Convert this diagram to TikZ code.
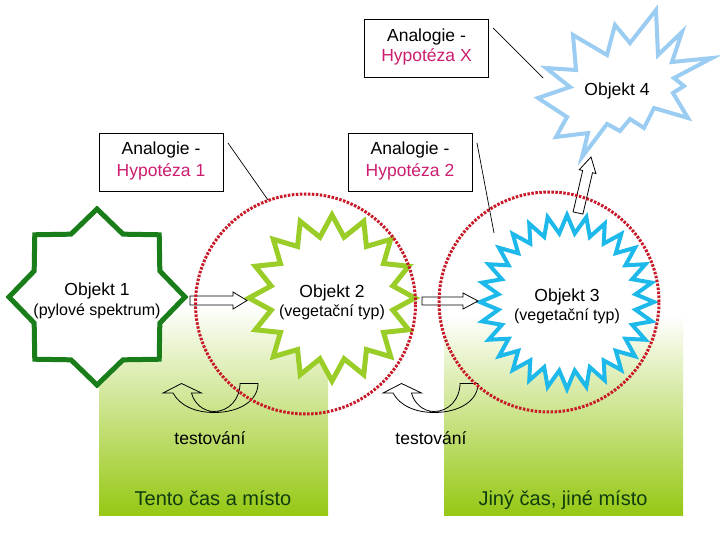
\documentclass[tikz,border=0pt]{standalone}
\usepackage{fontspec}
\setmainfont{Liberation Sans}
\usetikzlibrary{calc}
\definecolor{hyp}{RGB}{204,30,110}
\definecolor{darkgreen}{RGB}{25,125,25}
\definecolor{limestar}{RGB}{155,205,40}
\definecolor{cyanstar}{RGB}{30,185,235}
\definecolor{lightblue}{RGB}{155,205,242}
\definecolor{reddot}{RGB}{200,25,40}
\definecolor{gradgreen}{RGB}{150,200,20}
\definecolor{txtgreen}{RGB}{15,60,15}
\begin{document}
\begin{tikzpicture}[x=1pt,y=-1pt,
  box/.style={draw, fill=white, line width=0.8pt, minimum width=124pt, minimum height=58pt, inner sep=0pt},
  ttl/.style={anchor=base, font=\fontsize{17.5}{20}\selectfont, inner sep=0pt},
  sub/.style={anchor=base, font=\fontsize{16}{18}\selectfont, inner sep=0pt},
  bot/.style={anchor=base, font=\fontsize{20}{23}\selectfont, text=txtgreen, inner sep=0pt},
  lead/.style={line width=0.7pt},
  blockarrow/.style={draw, fill=white, line width=0.8pt, line join=miter},
  curvearrow/.style={draw, line width=0.8pt},
  dotcircle/.style={draw=reddot, line width=3pt, dash pattern=on 2.5pt off 1.5pt}
]
\useasboundingbox (0,0) rectangle (720,540);
\fill[white] (0,0) rectangle (720,540);

% gradient panels
\shade[top color=white, middle color=gradgreen!30, bottom color=gradgreen] (99,305) rectangle (328,515);
\shade[top color=white, middle color=gradgreen!30, bottom color=gradgreen] (444,315) rectangle (683,515);

% boxes
\node[box] (bx) at (426.5,48.5) {};
\node[box] (b1) at (161,162) {};
\node[box] (b2) at (410,162) {};
\node[ttl] (bxa) at (426.5,42) {Analogie -};
\node[ttl, text=hyp] (bxh) at (426.5,62) {Hypotéza X};
\node[ttl] (b1a) at (161,155) {Analogie -};
\node[ttl, text=hyp] (b1h) at (161,177) {Hypotéza 1};
\node[ttl] (b2a) at (410,155) {Analogie -};
\node[ttl, text=hyp] (b2h) at (410,177) {Hypotéza 2};

% leader lines
\coordinate (l1s) at (228,143); \coordinate (l1e) at (268,200);
\coordinate (l2s) at (477,143); \coordinate (l2e) at (494,233);
\coordinate (lxs) at (493,28);  \coordinate (lxe) at (543,78);
\draw[lead] (l1s) -- (l1e);
\draw[lead] (l2s) -- (l2e);
\draw[lead] (lxs) -- (lxe);

% Objekt 1 : 8-point star
\draw[line width=5pt, draw=darkgreen, fill=white, line join=miter]
  plot[samples at={0,...,15}, variable=\k]
  ({97+cos(\k*22.5)*(78+10*cos(180*\k))}, {297-sin(\k*22.5)*(78+10*cos(180*\k))}) -- cycle;
% Objekt 2 : 16-point star
\draw[line width=5pt, draw=limestar, fill=white, line join=miter]
  plot[samples at={0,...,31}, variable=\k]
  ({332+cos(90+\k*11.25)*(72.5+10.5*cos(180*\k))}, {298-sin(90+\k*11.25)*(72.5+10.5*cos(180*\k))}) -- cycle;
% Objekt 3 : 28-point star
\draw[line width=4pt, draw=cyanstar, fill=white, line join=miter]
  plot[samples at={0,...,55}, variable=\k]
  ({567+cos(\k*6.428571)*(78+9*cos(180*\k))}, {302-sin(\k*6.428571)*(78+9*cos(180*\k))}) -- cycle;
% Objekt 4 : explosion
\draw[line width=4pt, draw=lightblue, fill=white, line join=miter]
  (538,98) -- (570,87) -- (546,68) -- (576,70) -- (573,35) -- (607,55) -- (615,25) -- (630,43)
  -- (656,10) -- (658,55) -- (682,32) -- (672,62) -- (712,58) -- (674,78) -- (684,86) -- (673,93)
  -- (688,118) -- (654,108) -- (644,128) -- (630,119) -- (620,131) -- (607,124) -- (582,157)
  -- (588,133) -- (556,137) -- (567,117) -- cycle;

% star texts
\node[ttl] (o1) at (97,295) {Objekt 1};
\node[sub] (o1s) at (97,315) {(pylové spektrum)};
\node[ttl] (o2) at (332,297.5) {Objekt 2};
\node[sub] (o2s) at (332,316.5) {(vegetační typ)};
\node[ttl] (o3) at (567,301) {Objekt 3};
\node[sub] (o3s) at (567,320.5) {(vegetační typ)};
\node[ttl] (o4) at (617,95.5) {Objekt 4};

% block arrows
\coordinate (a1s) at (190,300.5); \coordinate (a1e) at (247,300.5);
\draw[blockarrow] ($(a1s)+(0,-4.5)$) -- (233,296) -- (233,292) -- (a1e) -- (233,309) -- (233,305) -- ($(a1s)+(0,4.5)$) -- cycle;
\coordinate (a2s) at (422,301); \coordinate (a2e) at (478,301);
\draw[blockarrow] ($(a2s)+(0,-4)$) -- (463,297) -- (463,293) -- (a2e) -- (463,309) -- (463,305) -- ($(a2s)+(0,4)$) -- cycle;
\coordinate (a3s) at (578,213); \coordinate (a3e) at (591,157);
\draw[blockarrow] (573.1,211.9) -- (582.7,170.5) -- (579.3,169.7) -- (a3e) -- (595.9,173.5) -- (592.5,172.7) -- (582.9,214.1) -- cycle;

% curved arrows
\foreach \ox in {163,383}{
\begin{scope}[shift={(\ox,393)}]
\draw[curvearrow] (95,-9.5) -- (77,-9.5) .. controls (77,6) and (66,18.5) .. (51,18.5)
  .. controls (40,18.5) and (31,10) .. (28.5,0) -- (38.5,0) -- (18.5,-9.5) -- (0,0) -- (10,0)
  .. controls (17,13) and (33,19.5) .. (51,19.5) .. controls (76,19.5) and (95,8) .. (95,-9.5) -- cycle;
\end{scope}}

% dotted circles
\draw[dotcircle] (305.5,304) circle[radius=110pt];
\draw[dotcircle] (549,302) circle[radius=110pt];

% labels
\node[ttl] (t1) at (210,444) {testování};
\node[ttl] (t2) at (431,444) {testování};
\node[bot] (p1) at (213,505) {Tento čas a místo};
\node[bot] (p2) at (563,505) {Jiný čas, jiné místo};
\end{tikzpicture}
\end{document}
